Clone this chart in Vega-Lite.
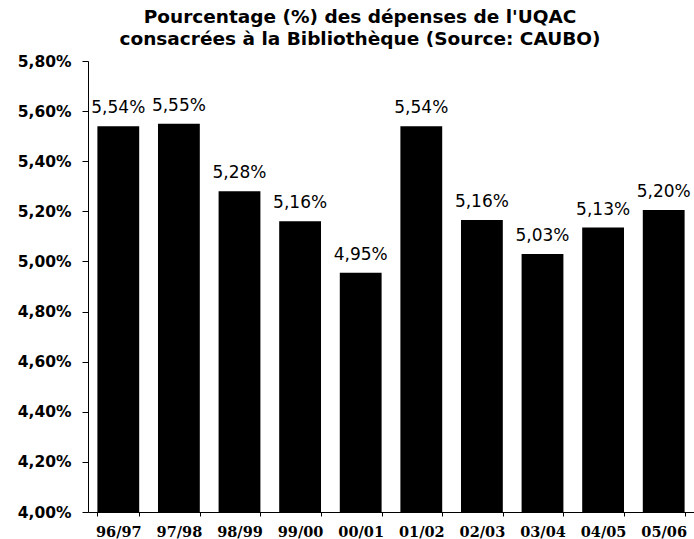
{
  "$schema": "https://vega.github.io/schema/vega-lite/v6.json",
  "width": 606,
  "height": 451,
  "autosize": "none",
  "padding": {"left": 88, "top": 61, "right": 0, "bottom": 27},
  "background": "white",
  "title": {
    "text": ["Pourcentage (%) des dépenses de l'UQAC", "consacrées à la Bibliothèque (Source: CAUBO)"],
    "font": "DejaVu Sans",
    "fontSize": 18.5,
    "fontWeight": "bold",
    "color": "black",
    "anchor": "middle",
    "dx": -31,
    "offset": 6,
    "lineHeight": 22
  },
  "data": {
    "values": [
      {"annee": "96/97", "pct": 5.54, "label": "5,54%"},
      {"annee": "97/98", "pct": 5.55, "label": "5,55%"},
      {"annee": "98/99", "pct": 5.28, "label": "5,28%"},
      {"annee": "99/00", "pct": 5.16, "label": "5,16%"},
      {"annee": "00/01", "pct": 4.955, "label": "4,95%"},
      {"annee": "01/02", "pct": 5.54, "label": "5,54%"},
      {"annee": "02/03", "pct": 5.165, "label": "5,16%"},
      {"annee": "03/04", "pct": 5.03, "label": "5,03%"},
      {"annee": "04/05", "pct": 5.135, "label": "5,13%"},
      {"annee": "05/06", "pct": 5.205, "label": "5,20%"}
    ]
  },
  "encoding": {
    "x": {
      "field": "annee",
      "type": "nominal",
      "sort": null,
      "scale": {"paddingInner": 0.31, "paddingOuter": 0.155},
      "axis": {
        "title": null,
        "labelAngle": 0,
        "labelFont": "DejaVu Serif",
        "labelFontSize": 14.5,
        "labelFontWeight": "bold",
        "labelColor": "black",
        "labelPadding": 9,
        "domainColor": "black",
        "tickColor": "black",
        "tickSize": 4,
        "tickBand": "extent",
        "grid": false
      }
    },
    "y": {
      "field": "pct",
      "type": "quantitative",
      "scale": {"domain": [4.0, 5.8], "zero": false, "nice": false},
      "axis": {
        "title": null,
        "values": [4.0, 4.2, 4.4, 4.6, 4.8, 5.0, 5.2, 5.4, 5.6, 5.8],
        "labelExpr": "replace(format(datum.value, '.2f'), '.', ',') + '%'",
        "labelFont": "DejaVu Sans",
        "labelFontSize": 15.5,
        "labelFontWeight": "bold",
        "labelColor": "black",
        "labelPadding": 11,
        "domainColor": "black",
        "tickColor": "black",
        "tickSize": 6,
        "grid": false
      }
    }
  },
  "layer": [
    {"mark": {"type": "bar", "color": "black", "clip": true}},
    {
      "mark": {
        "type": "text",
        "font": "DejaVu Sans",
        "fontSize": 17,
        "baseline": "bottom",
        "dy": -9,
        "color": "black"
      },
      "encoding": {"text": {"field": "label"}}
    }
  ],
  "config": {"view": {"stroke": null}}
}
